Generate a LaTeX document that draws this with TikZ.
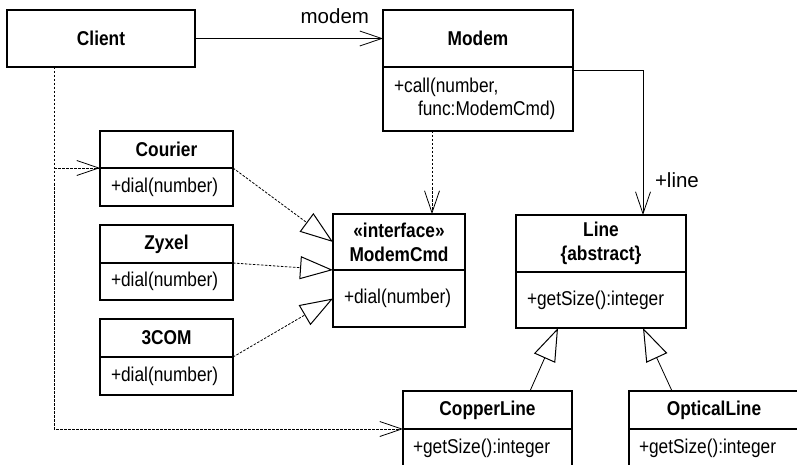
\documentclass[tikz,border=0pt]{standalone}
\usepackage{fontspec}
\setmainfont{Liberation Sans}
\newfontfamily\classfont[FakeStretch=0.865]{Liberation Sans}
\usetikzlibrary{arrows.meta}

\tikzset{
  every node/.style={outer sep=0pt},
  classhead/.style={draw, line width=1.2pt, rectangle, anchor=north west,
    inner xsep=0pt, inner ysep=0pt, align=center,
    font=\classfont\fontsize{20}{24}\selectfont\bfseries},
  classbody/.style={draw, line width=1.2pt, rectangle, anchor=north west,
    inner xsep=11pt, inner ysep=0pt, align=left,
    font=\classfont\fontsize{20}{23}\selectfont},
  assoc/.style={line width=0.8pt,
    -{Straight Barb[length=22pt, width=15pt, line width=0.8pt]}},
  dep/.style={assoc, dash pattern=on 2.5pt off 1.5pt},
  realize/.style={line width=0.8pt, dash pattern=on 2.5pt off 1.5pt,
    -{Triangle[open, length=33pt, width=23pt, line width=1pt]}},
  inherit/.style={line width=0.8pt,
    -{Triangle[open, length=33pt, width=23pt, line width=1pt]}},
  rolelabel/.style={inner sep=0pt, font=\fontsize{20.5}{24}\selectfont},
}

\begin{document}
\begin{tikzpicture}[x=1pt, y=-1pt]
\useasboundingbox (0,0) rectangle (797,465);
\clip (0,0) rectangle (797,465);

% Client
\node[classhead, text width=188pt, minimum height=57pt] (client) at (7,10) {Client};

% Modem
\node[classhead, text width=190pt, minimum height=57pt] (modem) at (383,10) {Modem};
\node[classbody, text width=168pt, minimum height=64pt] (modem-ops) at (modem.south west)
  {+call(number,\\\hspace*{24pt}func:ModemCmd)};

% Concrete modems
\node[classhead, text width=133pt, minimum height=37pt] (courier) at (100,131) {Courier};
\node[classbody, text width=111pt, minimum height=38pt] (courier-ops) at (courier.south west) {+dial(number)};

\node[classhead, text width=133pt, minimum height=38pt] (zyxel) at (100,225) {Zyxel};
\node[classbody, text width=111pt, minimum height=37pt] (zyxel-ops) at (zyxel.south west) {+dial(number)};

\node[classhead, text width=133pt, minimum height=38pt] (threecom) at (100,319) {3COM};
\node[classbody, text width=111pt, minimum height=38pt] (threecom-ops) at (threecom.south west) {+dial(number)};

% ModemCmd interface
\node[classhead, text width=132pt, minimum height=56pt] (mcmd) at (333,214) {«interface»\\ModemCmd};
\node[classbody, text width=110pt, minimum height=57pt] (mcmd-ops) at (mcmd.south west) {+dial(number)};

% Line hierarchy
\node[classhead, text width=170pt, minimum height=57pt] (line) at (516,215) {Line\\\{abstract\}};
\node[classbody, text width=148pt, minimum height=56pt] (line-ops) at (line.south west) {+getSize():integer};

\node[classhead, text width=169pt, minimum height=38pt] (copper) at (403,391) {CopperLine};
\node[classbody, text width=149pt, minimum height=39pt, inner xsep=10pt] (copper-ops) at (copper.south west) {+getSize():integer};

\node[classhead, text width=170pt, minimum height=38pt] (optical) at (629,391) {OpticalLine};
\node[classbody, text width=150pt, minimum height=39pt, inner xsep=10pt] (optical-ops) at (optical.south west) {+getSize():integer};

% Associations
\draw[assoc] (client.east) -- (modem.west);
\node[rolelabel, anchor=base east] at ([shift={(-14,-14.5)}]modem.west) {modem};

\coordinate (line-top) at ([xshift=-43pt]line.north east);
\draw[assoc] ([yshift=-3.5pt]modem-ops.north east) -| (line-top);
\node[rolelabel, anchor=base west] at ([shift={(12,-28)}]line-top) {+line};

% Dependencies
\draw[dep] ([xshift=49pt]modem-ops.south west) -- ([xshift=99pt]mcmd.north west);
\coordinate (client-out) at ([xshift=47pt]client.south west);
\draw[dep] (client-out) |- (copper-ops.north west);
\draw[dep] (client-out |- courier-ops.north west) -- (courier-ops.north west);

% Realizations of ModemCmd
\draw[realize] (courier-ops.north east) -- (mcmd.west);
\draw[realize] (zyxel-ops.north east) -- (mcmd-ops.north west);
\draw[realize] (threecom-ops.north east) -- (mcmd-ops.west);

% Generalizations of Line
\draw[inherit] ([xshift=127pt]copper.north west) -- ([xshift=42pt]line-ops.south west);
\draw[inherit] ([xshift=43pt]optical.north west) -- ([xshift=127pt]line-ops.south west);
\end{tikzpicture}
\end{document}
